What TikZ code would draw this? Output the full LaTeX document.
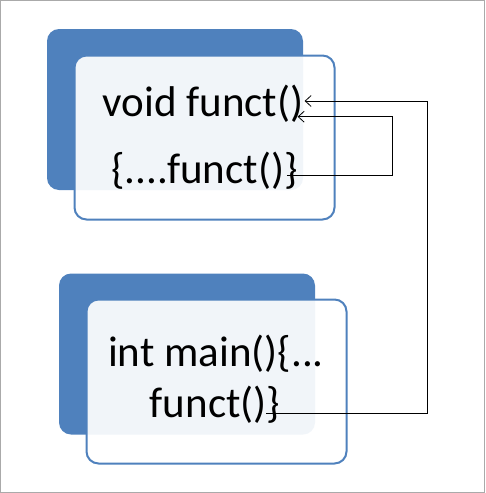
\documentclass[tikz,border=0pt]{standalone}
\usepackage{fontspec}
\setmainfont{Carlito}
\usetikzlibrary{arrows.meta}
\usetikzlibrary{positioning}
\definecolor{boxblue}{RGB}{79,129,189}
\definecolor{framegray}{RGB}{170,170,170}

\begin{document}
\begin{tikzpicture}[x=1pt,y=-1pt]
\tikzset{backbox/.style={fill=boxblue,rounded corners=12pt,minimum width=256pt,minimum height=161pt,inner sep=0pt},
frontbox/.style={draw=boxblue,line width=2pt,fill=white,fill opacity=0.92,rounded corners=12pt,minimum width=260pt,minimum height=164pt,inner sep=0pt},
code/.style={font=\fontsize{43}{50}\selectfont,inner sep=0pt,anchor=base},
calllink/.style={draw=black,line width=0.8pt,-{Straight Barb[length=6pt,width=11pt]}}}
\useasboundingbox (0,0) rectangle (485,493);
\draw[framegray,line width=1pt] (0.5,0.5) rectangle (484.5,492.5);
% function box
\node[backbox](funcback) at (175,109.5){};
\node[frontbox](funcfront) at (204.5,137.5){};
\node[code](voidtxt) at (203,116){void funct()};
\node[code](calltxt) at (204.5,183){\{....funct()\}};
% main box
\node[backbox](mainback) at (187,354){};
\node[frontbox](mainfront) at (216.5,381.5){};
\node[code](inttxt) at (216,366){int main()\{...};
\node[code](maintxt) at (215,417){funct()\}};
% calls
\coordinate (tipA) at ([xshift=1pt,yshift=15pt]voidtxt.base east);
\coordinate (tipB) at ([xshift=-6pt,yshift=-0.7pt]voidtxt.base east);
\coordinate (callstart) at ([xshift=-11pt,yshift=8pt]calltxt.base east);
\coordinate (mainstart) at ([xshift=-14pt,yshift=4pt]maintxt.base east);
\draw[calllink](callstart) -- ++(105.5,0) |- (tipB);
\draw[calllink](mainstart) -- ++(160.5,0) |- (tipA);
\end{tikzpicture}
\end{document}
